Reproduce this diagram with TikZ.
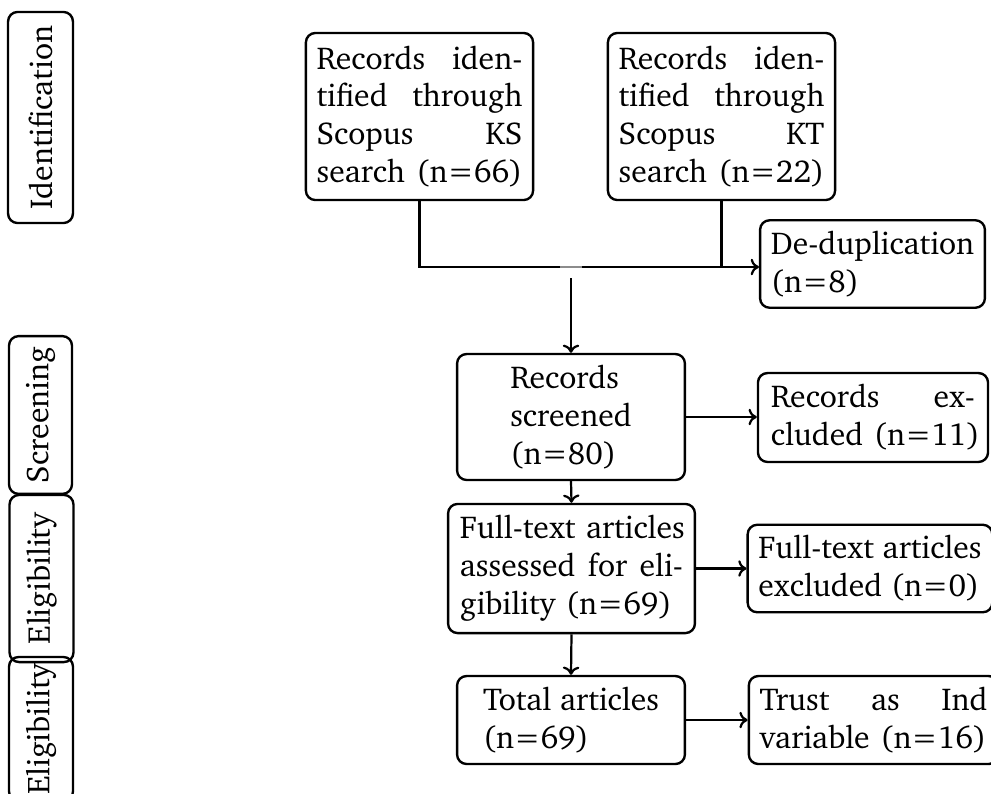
\documentclass[tikz,border=0pt]{standalone}
\usepackage[T1]{fontenc}
\usepackage{charter}
\usetikzlibrary{arrows.meta}
\tikzset{
  box/.style={draw, line width=0.75pt, rounded corners=3pt, inner sep=3.4pt, font=\fontsize{10}{12}\selectfont},
  phase/.style={box, rotate=90},
  conn/.style={line width=0.7pt},
  arr/.style={conn, -{To[length=2.6pt,width=5.2pt]}},
}
\begin{document}
\begin{tikzpicture}[x=0.316pt, y=-0.316pt]
\useasboundingbox (0,0) rectangle (991,793);
% phase labels
\node[phase, minimum width=66.7pt, minimum height=20.5pt] (id) at (40.5,117.5) {Identification};
\node[phase, minimum width=49pt, minimum height=19.9pt] (scrl) at (40.5,415) {Screening};
\node[phase, minimum width=52.8pt, minimum height=20.2pt] (el1) at (41.5,578.5) {Eligibility};
\node[phase, inner xsep=2pt, minimum width=42pt, minimum height=20.2pt] (el2) at (41,729) {Eligibility};
% identification
\node[box, minimum width=71.7pt, minimum height=52.8pt, text width=65pt, align=left] (ks) at (419.5,116.5)
  {Records\hfill iden-\\tified\hfill through\\Scopus\hfill KS\\search\hfill (n=66)};
\node[box, minimum width=71.7pt, minimum height=52.8pt, text width=65pt, align=left] (kt) at (721.5,116.5)
  {Records\hfill iden-\\tified\hfill through\\Scopus\hfill KT\\search\hfill (n=22)};
\node[box, minimum width=69.8pt, minimum height=25.9pt, align=left] (dedup) at (872.5,264)
  {De-duplication\\(n=8)};
% screening
\node[box, minimum width=72pt, minimum height=39.8pt, align=left] (scr) at (571,417)
  {Records\\screened\\(n=80)};
\node[box, minimum width=72.7pt, minimum height=28.1pt, text width=64.5pt, align=left] (excl) at (873,417.5)
  {Records\hfill ex-\\cluded~(n=11)};
% eligibility
\node[box, minimum width=78pt, minimum height=40.8pt, text width=70.5pt, align=left] (ft) at (571.5,568.5)
  {\mbox{Full-text articles}\\assessed\hfill for\hfill eli-\\gibility (n=69)};
\node[box, minimum width=75.8pt, minimum height=27.5pt, align=left] (ftx) at (870,568.5)
  {Full-text articles\\excluded (n=0)};
% included
\node[box, minimum width=72pt, minimum height=27.8pt, align=left] (tot) at (571,720)
  {Total articles\\(n=69)};
\node[box, minimum width=77.4pt, minimum height=27.8pt, text width=72pt, align=left] (trust) at (873.5,720)
  {Trust\hfill as\hfill Ind\\variable~(n=16)};
% connectors
\coordinate (gapL) at (560,267);
\coordinate (gapR) at (582,267);
\coordinate (start) at (571,278);
\draw[conn] (ks.south) |- (gapL);
\draw[line width=0.35pt, black!45] (gapL) -- (gapR);
\draw[arr] (gapR) -- (dedup.west |- gapR);
\draw[conn] (kt.south) -- (kt.south |- gapR);
\draw[arr] (start) -- (scr.north);
\draw[arr] (scr.east) -- (excl.west |- scr.east);
\draw[arr] (scr.south) -- (ft.north);
\draw[arr] (ft.east) -- (ftx.west |- ft.east);
\draw[arr] (ft.south) -- (tot.north);
\draw[arr] (tot.east) -- (trust.west |- tot.east);
\end{tikzpicture}
\end{document}
